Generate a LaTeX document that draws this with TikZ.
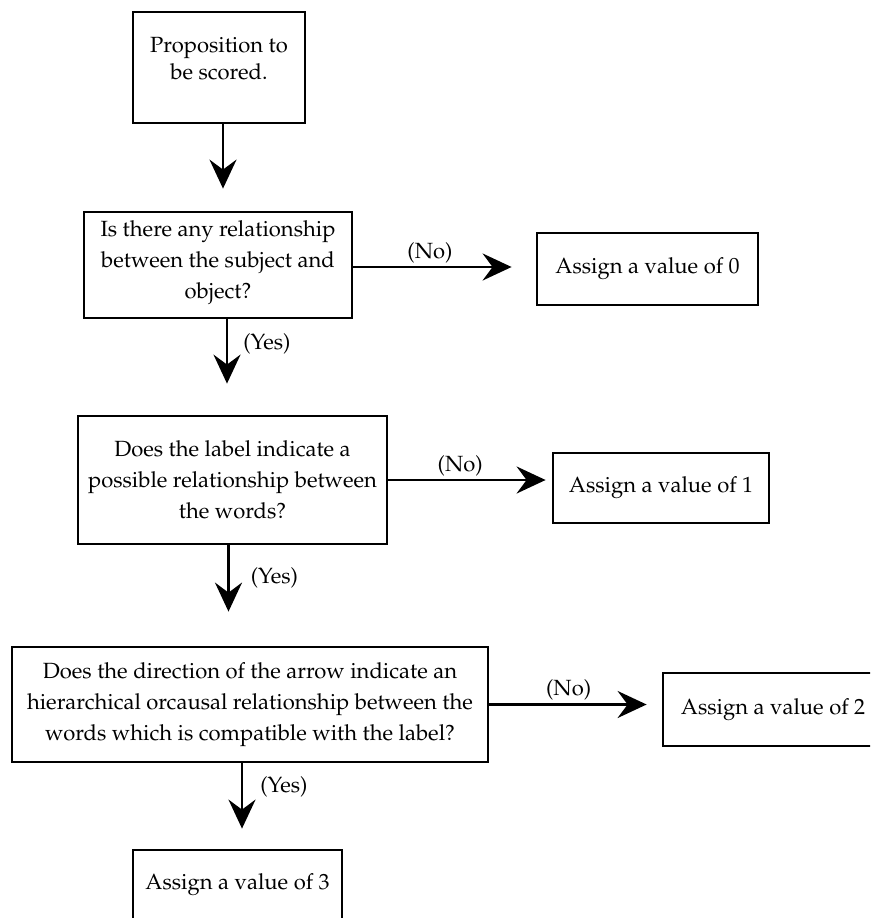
\documentclass[tikz,border=0pt]{standalone}
\usepackage[T1]{fontenc}
\renewcommand{\rmdefault}{ppl}
\usetikzlibrary{arrows.meta}
\tikzset{
  flownode/.style = {align=center, inner sep=0pt, text centered, font=\fontsize{22}{31}\selectfont},
  box_q/.style = {flownode, rectangle, black, draw=black, line width=2.8pt},
  arr_d/.style = {-{Stealth[length=29pt, width=27pt, inset=10pt]}, line width=2.6pt},
  lbl_yn/.style = {flownode, inner sep=3pt},
}

\begin{document}
\begin{tikzpicture}[x=1pt, y=-1pt]
  \clip (0,0) rectangle (870,918);
  \fill[white] (0,0) rectangle (870,918);

  % questions, down the left
  \node [box_q, minimum width=172pt, minimum height=111pt, text depth=18pt,
         font=\fontsize{22}{27}\selectfont] (prop) at (219,67.5)
    {Proposition to\\be scored.};
  \node [box_q, minimum width=268pt, minimum height=106pt, text depth=10pt] (q_rel) at (218,265)
    {Is there any relationship\\between the subject and\\object?};
  \node [box_q, minimum width=309pt, minimum height=128pt] (q_lab) at (232.5,480)
    {Does the label indicate a\\possible relationship between\\the words?};
  \node [box_q, minimum width=476pt, minimum height=115pt] (q_dir) at (250,704.5)
    {Does the direction of the arrow indicate an\\hierarchical orcausal relationship between the\\words which is compatible with the label?};

  % scores, to the right
  \node [box_q, minimum width=221pt, minimum height=72pt] (val_0) at (647.5,269) {Assign a value of 0};
  \node [box_q, minimum width=216pt, minimum height=70pt] (val_1) at (661,488) {Assign a value of 1};
  \node [box_q, minimum width=220pt, minimum height=73pt] (val_2) at (773,709.5) {Assign a value of 2};
  \node [box_q, minimum width=209pt, minimum height=70pt] (val_3) at (237.5,885) {Assign a value of 3};

  \draw [arr_d, shorten >=22pt] ([xshift=4pt]prop.south) -- ([xshift=4pt]prop.south |- q_rel.north);
  \draw [arr_d, shorten >=31pt] ([xshift=9pt]q_rel.south) -- ([xshift=9pt]q_rel.south |- q_lab.north)
    node [lbl_yn, right, pos=0.26, xshift=12pt] {(Yes)};
  \draw [arr_d, shorten >=34pt] ([xshift=-4pt]q_lab.south) -- ([xshift=-4pt]q_lab.south |- q_dir.north)
    node [lbl_yn, right, pos=0.32, xshift=18pt] {(Yes)};
  \draw [arr_d, shorten >=20pt] ([xshift=-8pt]q_dir.south) -- ([xshift=-8pt]q_dir.south |- val_3.north)
    node [lbl_yn, right, pos=0.28, xshift=14pt] {(Yes)};

  \draw [arr_d, shorten >=24pt] ([yshift=-2pt]q_rel.east) -- ([yshift=-2pt]q_rel.east -| val_0.west)
    node [lbl_yn, above, pos=0.42] {(No)};
  \draw [arr_d, shorten >=6pt] (q_lab.east) -- (q_lab.east -| val_1.west)
    node [lbl_yn, above, pos=0.44] {(No)};
  \draw [arr_d, shorten >=15pt] (q_dir.east) -- (q_dir.east -| val_2.west)
    node [lbl_yn, above, pos=0.46] {(No)};
\end{tikzpicture}
\end{document}
